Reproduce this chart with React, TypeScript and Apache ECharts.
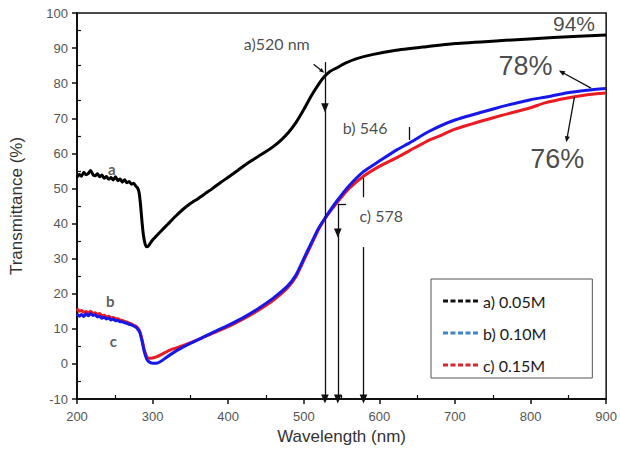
import React, { useEffect, useRef } from "react";
import * as echarts from "echarts";

// ---- data ----
const xTicks = [200, 300, 400, 500, 600, 700, 800, 900];
const yTicks = [-10, 0, 10, 20, 30, 40, 50, 60, 70, 80, 90, 100];

const seriesNames = ["a) 0.05M", "b) 0.10M", "c) 0.15M"];

// a) 0.05M (black)
const curveA: [number, number][] = [
  [200, 53.2], [203, 54.0], [206, 53.5], [209, 54.6], [212, 53.9], [215, 54.3], [218, 55.1],
  [221, 54.0], [224, 53.6], [227, 54.2], [230, 53.3], [233, 53.8], [236, 52.9], [239, 53.4],
  [242, 52.6], [245, 53.1], [248, 52.4], [251, 53.3], [254, 52.2], [257, 52.7], [260, 51.8],
  [263, 52.5], [266, 51.6], [269, 52.0], [272, 51.2], [275, 51.5], [278, 50.6], [280, 50.2],
  [282, 49.0], [284, 45.5], [286, 40.5], [288, 36.5], [290, 34.3], [292, 33.4], [294, 33.5],
  [297, 34.4], [300, 35.3], [310, 37.6], [320, 39.8], [330, 42.0], [340, 44.0], [350, 45.7],
  [360, 47.1], [370, 48.6], [380, 50.1], [390, 51.7], [400, 53.2], [413, 55.2], [420, 56.3],
  [430, 57.8], [440, 59.2], [450, 60.5], [460, 62.0], [470, 63.8], [480, 66.0], [490, 68.9],
  [500, 72.5], [510, 76.4], [520, 79.8], [527, 81.8], [535, 83.4], [544, 84.4], [555, 85.7],
  [570, 87.0], [592, 88.2], [620, 89.3], [658, 90.3], [700, 91.3], [767, 92.2], [830, 93.0],
  [900, 93.7],
];

// b) 0.10M (blue)
const curveB: [number, number][] = [
  [200, 14.2], [203, 13.6], [206, 14.1], [209, 13.5], [212, 14.3], [215, 13.7], [218, 14.4],
  [221, 13.8], [224, 14.0], [227, 13.4], [230, 13.6], [233, 13.0], [236, 13.3], [239, 12.8],
  [242, 13.1], [245, 12.5], [248, 12.8], [251, 12.3], [254, 12.4], [257, 12.0], [260, 12.0],
  [263, 11.7], [266, 11.6], [269, 11.3], [272, 11.1], [275, 10.8], [278, 10.4], [280, 10.0],
  [283, 9.0], [286, 6.5], [289, 3.5], [292, 1.5], [295, 0.6], [300, 0.2], [305, 0.2],
  [310, 0.6], [318, 1.8], [326, 3.0], [340, 4.8], [361, 7.0], [380, 9.0], [400, 11.0],
  [420, 13.2], [440, 15.8], [460, 18.8], [479, 22.3], [490, 25.5], [500, 30.0], [510, 34.5],
  [520, 38.8], [531, 42.5], [544, 46.5], [560, 50.8], [579, 54.8], [600, 57.8], [623, 61.0],
  [640, 63.0], [666, 66.3], [700, 69.5], [753, 72.8], [800, 75.3], [819, 76.0], [849, 77.3],
  [875, 78.0], [900, 78.5],
];

// c) 0.15M (red)
const curveC: [number, number][] = [
  [200, 15.8], [203, 15.0], [206, 15.2], [209, 14.7], [212, 14.9], [215, 14.5], [218, 15.0],
  [221, 14.4], [224, 14.6], [227, 14.1], [230, 14.4], [233, 13.7], [236, 13.9], [239, 13.4],
  [242, 13.6], [245, 13.1], [248, 13.2], [251, 12.8], [254, 12.9], [257, 12.5], [260, 12.4],
  [263, 12.1], [266, 11.9], [269, 11.6], [272, 11.4], [275, 11.0], [278, 10.7], [280, 10.3],
  [283, 9.3], [286, 7.0], [289, 4.0], [292, 2.2], [295, 1.6], [300, 1.7], [305, 2.0],
  [310, 2.5], [318, 3.4], [326, 4.2], [340, 5.2], [361, 7.0], [380, 8.8], [400, 10.6],
  [420, 12.8], [440, 15.3], [460, 18.2], [479, 21.8], [490, 25.0], [500, 29.5], [510, 34.0],
  [520, 38.5], [531, 42.3], [544, 46.0], [560, 50.0], [579, 53.5], [600, 56.3], [623, 58.8],
  [640, 60.8], [666, 63.8], [680, 65.0], [700, 66.9], [753, 70.3], [800, 73.0], [819, 74.4],
  [849, 75.8], [875, 76.7], [900, 77.2],
];

// annotation texts (in data coordinates)
const noteTexts = ["a)520 nm", "b) 546", "c) 578", "94%", "78%", "76%", "a", "b", "c"];
const noteX = [420, 551, 573, 829, 757, 799, 246, 244, 248];
const noteY = [91.4, 67.5, 42.4, 97.0, 85.0, 58.5, 55.6, 17.9, 6.5];

// arrows / guide segments: [x1, y1, x2, y2, arrowAtEnd(1/0), size]
const segments: number[][] = [
  [528, 86, 528, 73, 1, 9],
  [528, 73, 528, -10, 1, 9],
  [545, 45.6, 545, 37.3, 1, 9],
  [545, 37.3, 545, -10, 1, 9],
  [545, 45.6, 556, 45.6, 0, 0],
  [579, 33.3, 579, -10, 1, 9],
  [639, 67.5, 639, 63.8, 0, 0],
  [579, 53, 579, 47.5, 0, 0],
  [513, 85.4, 524.5, 83.4, 1, 5],
  [880, 78.6, 841, 83.2, 1, 6],
  [858, 76.0, 848, 64.0, 1, 6],
];

const dashIcon =
  "path://M0 0h5v3h-5z M7.5 0h5v3h-5z M15 0h5v3h-5z M22.5 0h5v3h-5z M30 0h5v3h-5z";

export default function App() {
  const ref = useRef<HTMLDivElement>(null);

  useEffect(() => {
    if (!ref.current) return;
    const chart = echarts.init(ref.current, null, { renderer: "svg" });

    const notes = noteTexts.map((t, i) => {
      const single = t.length === 1;
      const pct = t.indexOf("%") >= 0;
      return {
        value: [noteX[i], noteY[i]],
        label: {
          show: true,
          formatter: t,
          position: single ? "inside" : "right",
          distance: 0,
          color: single ? "#333" : "#1a1a1a",
          fontFamily: pct ? "Liberation Sans, Arial" : "Lato, sans-serif",
          fontSize: pct ? (t === "94%" ? 21 : 27) : single ? 15 : 16,
          fontWeight: single ? "bold" : "normal",
        },
      };
    });

    const lines = segments.map((s) => [
      { coord: [s[0], s[1]], symbol: "none" },
      {
        coord: [s[2], s[3]],
        symbol: s[4] ? "triangle" : "none",
        symbolSize: s[4] ? [s[5] * 0.85, s[5]] : 0,
      },
    ]);

    const tickCommon = {
      axisTick: { show: true, inside: true, length: -5, lineStyle: { color: "#111", width: 1.5 } },
      minorTick: { show: true, splitNumber: 2, length: 4, lineStyle: { color: "#111", width: 1.2 } },
    };

    chart.setOption({
      animation: false,
      backgroundColor: "#fff",
      grid: {
        left: 77,
        right: 8,
        top: 13,
        bottom: 53,
        show: true,
        borderColor: "#111",
        borderWidth: 1.5,
      },
      legend: {
        data: [
          { name: seriesNames[0], itemStyle: { color: "#111" } },
          { name: seriesNames[1], itemStyle: { color: "#3f86c8" } },
          { name: seriesNames[2], itemStyle: { color: "#d8262e" } },
        ],
        icon: dashIcon,
        orient: "vertical",
        left: 431,
        top: 279,
        itemWidth: 35,
        itemHeight: 3,
        itemGap: 14,
        padding: [13, 46, 4, 12],
        borderColor: "#555",
        borderWidth: 1,
        selectedMode: false,
        textStyle: {
          fontFamily: "Lato, sans-serif",
          fontSize: 16,
          color: "#1a1a1a",
          lineHeight: 18,
        },
      },
      xAxis: {
        type: "value",
        min: xTicks[0],
        max: xTicks[xTicks.length - 1],
        interval: 100,
        name: "Wavelength (nm)",
        nameLocation: "middle",
        nameGap: 29,
        nameTextStyle: { fontFamily: "Liberation Sans, Arial", fontSize: 17, color: "#333" },
        axisLine: { show: true, onZero: false, lineStyle: { color: "#111", width: 2 } },
        ...tickCommon,
        axisLabel: {
          fontFamily: "Liberation Sans, Arial",
          fontSize: 13,
          color: "#555",
          margin: 11,
        },
        splitLine: { show: false },
      },
      yAxis: {
        type: "value",
        min: yTicks[0],
        max: yTicks[yTicks.length - 1],
        interval: 10,
        name: "Transmittance (%)",
        nameLocation: "middle",
        nameGap: 52,
        nameTextStyle: { fontFamily: "Liberation Sans, Arial", fontSize: 17, color: "#333" },
        axisLine: { show: true, onZero: false, lineStyle: { color: "#111", width: 2 } },
        ...tickCommon,
        axisLabel: {
          fontFamily: "Liberation Sans, Arial",
          fontSize: 13,
          color: "#555",
          margin: 9,
        },
        splitLine: { show: false },
      },
      series: [
        {
          name: seriesNames[0],
          type: "line",
          data: curveA,
          showSymbol: false,
          symbol: "none",
          smooth: 0.2,
          lineStyle: { color: "#000", width: 3 },
          itemStyle: { color: "#000" },
          z: 3,
        },
        {
          name: seriesNames[2],
          type: "line",
          data: curveC,
          showSymbol: false,
          symbol: "none",
          smooth: 0.2,
          lineStyle: { color: "#ec1a22", width: 3 },
          itemStyle: { color: "#ec1a22" },
          z: 3,
        },
        {
          name: seriesNames[1],
          type: "line",
          data: curveB,
          showSymbol: false,
          symbol: "none",
          smooth: 0.2,
          lineStyle: { color: "#1717e8", width: 3 },
          itemStyle: { color: "#1717e8" },
          z: 4,
        },
        {
          name: "notes",
          type: "scatter",
          data: notes,
          symbolSize: 1,
          itemStyle: { color: "rgba(0,0,0,0)" },
          silent: true,
          z: 6,
          markLine: {
            silent: true,
            animation: false,
            label: { show: false },
            lineStyle: { color: "#111", width: 1.3, type: "solid" },
            emphasis: { disabled: true },
            data: lines,
          },
        },
      ],
    });

    return () => chart.dispose();
  }, []);

  return (
    <div
      ref={ref}
      style={{ position: "fixed", left: 0, top: 0, width: 620, height: 452 }}
    />
  );
}
